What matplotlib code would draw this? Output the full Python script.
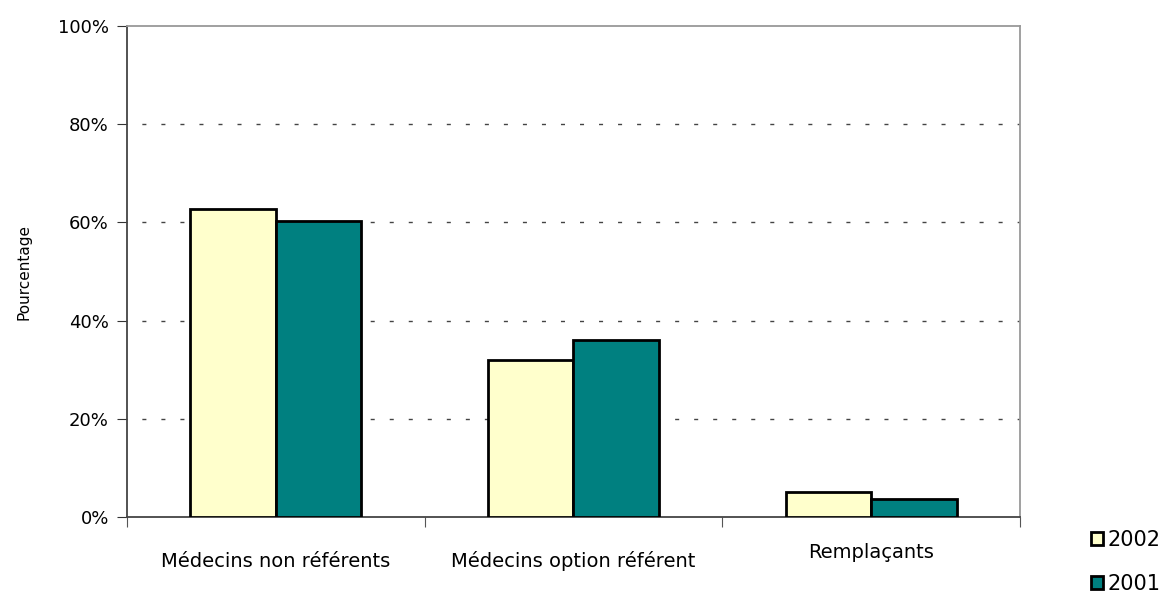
import matplotlib.pyplot as plt
import numpy as np

categories = ["Médecins non référents", "Médecins option référent", "Remplaçants"]
years = ["2002", "2001"]
values_2002 = [62.8, 32.0, 5.0]
values_2001 = [60.2, 36.1, 3.7]
yticks = [0, 20, 40, 60, 80, 100]

colors = ["#FFFFCC", "#008080"]

fig = plt.figure(figsize=(11.69, 5.95), dpi=100)
ax = fig.add_axes([0.1086, 0.1311, 0.7639, 0.825])

x = np.arange(len(categories))
w = 0.287
b1 = ax.bar(x - w / 2, values_2002, w, color=colors[0], edgecolor="black",
            linewidth=2, label=years[0], zorder=3)
b2 = ax.bar(x + w / 2, values_2001, w, color=colors[1], edgecolor="black",
            linewidth=2, label=years[1], zorder=3)

ax.set_xlim(-0.5, len(categories) - 0.5)
ax.set_ylim(0, 100)
ax.set_yticks(yticks)
ax.set_yticklabels([f"{v}%" for v in yticks], fontsize=13)
for v in yticks[1:-1]:
    ax.axhline(v, color="#444444", linestyle=(3, (2.9, 10.8)), linewidth=1,
               zorder=1)

# group boundaries as x ticks
ax.set_xticks(np.arange(-0.5, len(categories), 1.0))
ax.set_xticklabels([])
ax.tick_params(axis="x", direction="out", length=7, color="#555555")
ax.tick_params(axis="y", direction="out", length=7, color="#333333", pad=6)

label_y = [-9.0, -9.0, -7.2]
for xi, lab, ly in zip(x, categories, label_y):
    ax.text(xi, ly, lab, ha="center", va="center", fontsize=14,
            transform=ax.transData, clip_on=False)

ax.set_ylabel("Pourcentage", fontsize=11, labelpad=19)

ax.spines["left"].set_color("#444444")
ax.spines["bottom"].set_color("#444444")
ax.spines["top"].set_color("#999999")
ax.spines["right"].set_color("#999999")
for s in ax.spines.values():
    s.set_linewidth(1.3)

leg = fig.legend(handles=[b1, b2], labels=years, loc="lower left",
                 bbox_to_anchor=(0.917, -0.03), frameon=False, fontsize=15,
                 handlelength=0.6, handleheight=0.6, handletextpad=0.2,
                 labelspacing=1.15)

fig.savefig("out.png", dpi=100)
